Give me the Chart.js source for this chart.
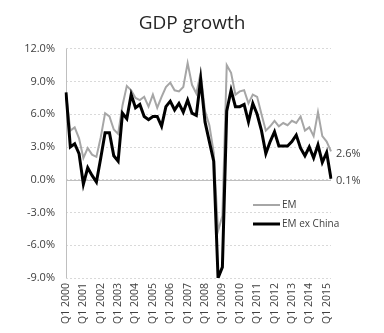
<!DOCTYPE html>
<html>
<head>
<meta charset="utf-8">
<script src="https://cdn.jsdelivr.net/npm/chart.js@4/dist/chart.umd.min.js"></script>
<style>
  html, body { margin: 0; padding: 0; background: #fff; }
  #wrap { width: 384px; height: 333px; }
</style>
</head>
<body>
<div id="wrap"><canvas id="gdpChart" width="384" height="333"></canvas></div>
<script>
// years on the axis, quarterly data Q1 2000 .. Q2 2015
const years = [2000, 2001, 2002, 2003, 2004, 2005, 2006, 2007, 2008, 2009, 2010, 2011, 2012, 2013, 2014, 2015];
const quarters = [];
years.forEach(y => {
  ["Q1", "Q2", "Q3", "Q4"].forEach(q => quarters.push(q + " " + y));
});
const labels = quarters.slice(0, 62);

// GDP growth, % y/y
const emValues = [
  7.9, 4.5, 4.8, 3.8, 2.0, 2.9, 2.3, 2.1, 3.9, 6.1,
  5.8, 4.6, 4.2, 6.8, 8.6, 8.2, 7.5, 7.3, 7.6, 6.7,
  7.8, 6.6, 7.6, 8.5, 8.9, 8.2, 8.1, 8.5, 10.7, 8.7,
  7.9, 9.8, 6.3, 5.0, 2.5, -4.7, -3.3, 10.5, 9.8, 7.8,
  8.1, 8.2, 7.0, 7.8, 7.6, 6.0, 4.5, 4.9, 5.4, 4.9,
  5.2, 5.0, 5.4, 5.2, 5.8, 4.5, 4.8, 4.0, 6.2, 4.0,
  3.5, 2.6
];
const emExChinaValues = [
  8.0, 3.0, 3.3, 2.4, -0.4, 1.1, 0.4, -0.2, 2.0, 4.3,
  4.3, 2.2, 1.7, 6.1, 5.6, 7.8, 6.6, 6.9, 5.8, 5.5,
  5.8, 5.8, 4.9, 6.7, 7.2, 6.4, 7.0, 6.2, 7.3, 6.1,
  5.9, 9.2, 5.3, 3.5, 1.7, -9.0, -8.0, 6.3, 8.2, 6.7,
  6.7, 6.9, 5.3, 7.0, 6.0, 4.5, 2.4, 3.5, 4.4, 3.1,
  3.1, 3.1, 3.5, 4.1, 2.9, 2.2, 3.0, 2.0, 3.2, 1.6,
  2.5, 0.1
];
const endLabels = ["2.6%", "0.1%"];

const FONT = "'Open Sans', 'DejaVu Sans', sans-serif";
const TEXT = "#404040";

/* solid axis lines: left border and 0% line */
const axisLines = {
  id: "axisLines",
  beforeDatasetsDraw(chart) {
    const { ctx, chartArea, scales } = chart;
    const y = Math.round(scales.y.getPixelForValue(0)) + 0.5;
    const x = Math.round(chartArea.left) + 0.5;
    ctx.save();
    ctx.strokeStyle = "#bfbfbf";
    ctx.lineWidth = 1;
    ctx.beginPath();
    ctx.moveTo(chartArea.left, y);
    ctx.lineTo(chartArea.right, y);
    ctx.moveTo(x, chartArea.top);
    ctx.lineTo(x, chartArea.bottom);
    ctx.stroke();
    ctx.restore();
  }
};

/* value labels at the end of each line */
const lastValues = {
  id: "lastValues",
  afterDatasetsDraw(chart) {
    const { ctx } = chart;
    ctx.save();
    ctx.font = "11px " + FONT;
    ctx.fillStyle = TEXT;
    ctx.textBaseline = "middle";
    chart.data.datasets.forEach((ds, i) => {
      const pts = chart.getDatasetMeta(i).data;
      const p = pts[pts.length - 1];
      ctx.fillText(endLabels[i], p.x + 5, p.y + 2);
    });
    ctx.restore();
  }
};

/* legend inside the plot */
const innerLegend = {
  id: "innerLegend",
  afterDraw(chart) {
    const { ctx } = chart;
    ctx.save();
    ctx.font = "10px " + FONT;
    ctx.textBaseline = "middle";
    chart.data.datasets.forEach((ds, i) => {
      const y = 205 + i * 19;
      ctx.strokeStyle = ds.borderColor;
      ctx.lineWidth = ds.borderWidth;
      ctx.beginPath();
      ctx.moveTo(253, y);
      ctx.lineTo(280, y);
      ctx.stroke();
      ctx.fillStyle = TEXT;
      ctx.fillText(ds.label, 282, y);
    });
    ctx.restore();
  }
};

new Chart(document.getElementById("gdpChart"), {
  type: "line",
  data: {
    labels,
    datasets: [
      {
        label: "EM",
        data: emValues,
        borderColor: "#a6a6a6",
        borderWidth: 2,
        pointRadius: 0,
        tension: 0,
        order: 1
      },
      {
        label: "EM ex China",
        data: emExChinaValues,
        borderColor: "#000000",
        borderWidth: 3,
        pointRadius: 0,
        tension: 0,
        order: 0
      }
    ]
  },
  options: {
    responsive: false,
    animation: false,
    layout: { padding: 0 },
    plugins: {
      legend: { display: false },
      tooltip: { enabled: false },
      title: {
        display: true,
        text: "GDP growth",
        color: "#262626",
        font: { family: FONT, size: 19, weight: "normal" },
        padding: { top: 12, bottom: 14 }
      }
    },
    scales: {
      x: {
        grid: { display: false, drawTicks: false },
        border: { display: false },
        ticks: {
          autoSkip: false,
          minRotation: 90,
          maxRotation: 90,
          padding: 5,
          color: TEXT,
          font: { family: FONT, size: 10.5 },
          callback: (v, i) => (i % 4 === 0 ? labels[i] : "")
        },
        afterFit: s => { s.height = 55; }
      },
      y: {
        min: -9,
        max: 12,
        grid: { color: "#d9d9d9", drawTicks: false },
        border: { display: false, dash: [2, 2] },
        ticks: {
          stepSize: 3,
          padding: 11,
          color: TEXT,
          font: { family: FONT, size: 11 },
          callback: v => v.toFixed(1) + "%"
        },
        afterFit: s => { s.width = 66; }
      },
      // empty space on the right for the end labels
      side: {
        position: "right",
        grid: { display: false, drawTicks: false },
        border: { display: false },
        ticks: { display: false },
        afterFit: s => { s.width = 53; }
      }
    }
  },
  plugins: [axisLines, lastValues, innerLegend]
});
</script>
</body>
</html>
